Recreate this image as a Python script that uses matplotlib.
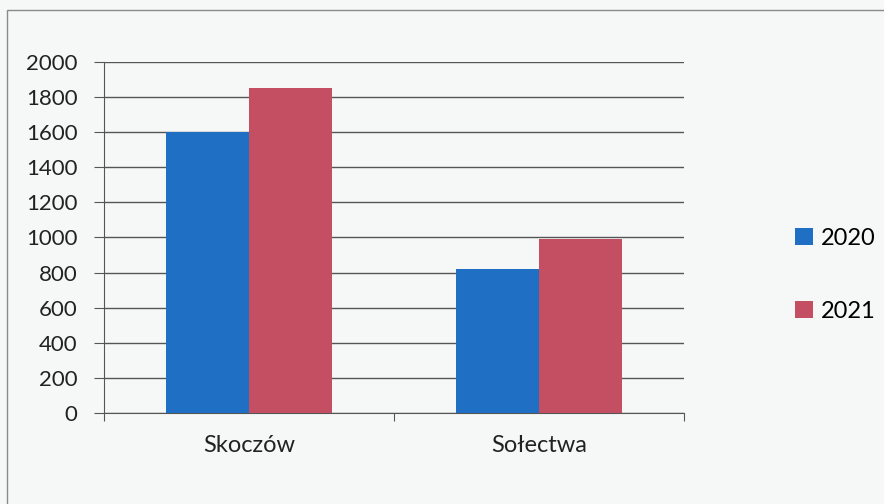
import matplotlib.pyplot as plt
import matplotlib.patches as mpatches
import numpy as np

# dane
kategorie = ["Skoczów", "Sołectwa"]
lata = ["2020", "2021"]
wartosci_2020 = [1600, 820]
wartosci_2021 = [1850, 990]

kolory = ["#1f6fc4", "#c44f62"]

plt.rcParams['font.family'] = ['Lato', 'DejaVu Sans']

fig = plt.figure(figsize=(8.84, 5.04), dpi=100, facecolor="#f6f7f7")
# ramka wykresu
fig.patches.append(mpatches.Rectangle((7 / 884, -0.1), 1.2, 1 - 10 / 504 + 0.1,
                                      transform=fig.transFigure, fill=False,
                                      edgecolor="#8a8a8a", linewidth=1.0))

ax = fig.add_axes([104 / 884, 1 - 413 / 504, 580 / 884, 351 / 504])
ax.set_facecolor("none")

x = np.arange(len(kategorie)) + 0.5
szer = 0.285
ax.bar(x - szer / 2, wartosci_2020, szer, color=kolory[0], label=lata[0], zorder=3)
ax.bar(x + szer / 2, wartosci_2021, szer, color=kolory[1], label=lata[1], zorder=3)

ax.set_xlim(0, 2)
ax.set_ylim(0, 2000)
ax.set_yticks(np.arange(0, 2001, 200))
ax.yaxis.grid(True, color="#555555", linewidth=1.0, zorder=0)

ax.set_xticks([0, 1, 2])
ax.set_xticklabels([])
ax.set_xticks(x, minor=True)
ax.set_xticklabels(kategorie, minor=True, fontsize=17, color="#222222")
ax.tick_params(axis="x", which="minor", length=0, pad=16)
ax.tick_params(axis="x", which="major", length=6, direction="out", color="#555555")
ax.tick_params(axis="y", length=7, direction="out", color="#555555",
               labelsize=16, labelcolor="#222222", pad=12)

for s in ["top", "right"]:
    ax.spines[s].set_visible(False)
ax.spines["left"].set_color("#555555")
ax.spines["bottom"].set_color("#555555")

fig.legend(loc="center left", bbox_to_anchor=(774 / 884, 1 - 275 / 504),
           frameon=False, fontsize=17, handlelength=0.75, handleheight=0.75,
           handletextpad=0.35, labelspacing=2.2)

plt.savefig("out.png", dpi=100, facecolor=fig.get_facecolor())
